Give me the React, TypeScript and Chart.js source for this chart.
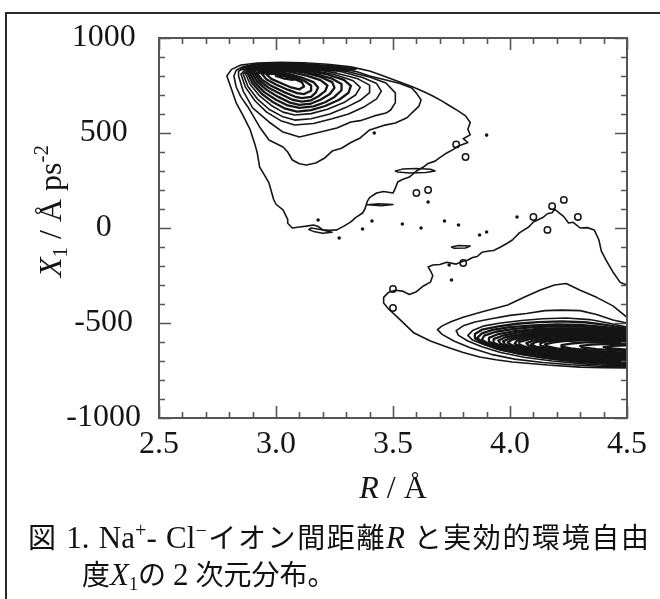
import React, { useEffect, useRef } from "react";
import { Chart, registerables } from "chart.js";

Chart.register(...registerables);

type P = [number, number];

// ---- axes ----
const xTickValues = [2.5, 3.0, 3.5, 4.0, 4.5];
const yTickValues = [-1000, -500, 0, 500, 1000];
const xMinorStep = 0.1;
const yMinorStep = 100;

// ---- upper cluster contours (R, X1) ----
const upper0: P[] = [
  [2.79, 800], [2.81, 835], [2.85, 858], [2.92, 868], [3.02, 872], [3.12, 870], [3.22, 862], [3.32, 848],
  [3.40, 826], [3.46, 800], [3.52, 772], [3.58, 745], [3.63, 718], [3.67, 695], [3.71, 668], [3.74, 645],
  [3.78, 615], [3.81, 590], [3.83, 555], [3.82, 520], [3.83, 490], [3.80, 470], [3.82, 450], [3.78, 432],
  [3.76, 415], [3.73, 395], [3.70, 370], [3.68, 352], [3.65, 340], [3.63, 321], [3.60, 300], [3.57, 268],
  [3.54, 255], [3.52, 242], [3.51, 210], [3.50, 184], [3.46, 192], [3.43, 184], [3.40, 160], [3.39, 140],
  [3.38, 100], [3.37, 79], [3.34, 55], [3.32, 32], [3.29, 10], [3.26, -10], [3.23, -12], [3.20, -10],
  [3.18, 8], [3.16, 16], [3.13, 10], [3.10, 5], [3.07, 0], [3.05, 25], [3.05, 45], [3.03, 95],
  [3.00, 125], [2.99, 150], [2.97, 237], [2.95, 280], [2.93, 321], [2.92, 395], [2.91, 440], [2.89, 516],
  [2.86, 590], [2.83, 658], [2.81, 730], [2.79, 800],
];
const upper1: P[] = [
  [2.82, 800], [2.83, 742], [2.85, 690], [2.88, 637], [2.93, 532], [2.97, 463], [3.03, 426], [3.05, 400],
  [3.07, 358], [3.10, 338], [3.13, 332], [3.17, 342], [3.21, 370], [3.24, 405], [3.28, 420], [3.32, 450],
  [3.36, 474], [3.40, 516], [3.46, 540], [3.51, 553], [3.56, 580], [3.58, 605], [3.61, 640], [3.62, 674],
  [3.60, 710], [3.58, 737], [3.53, 760], [3.47, 779], [3.40, 800], [3.35, 821], [3.25, 845], [3.15, 858],
  [3.02, 866], [2.92, 863], [2.86, 850], [2.83, 830], [2.82, 800],
];
const upper2: P[] = [
  [2.84, 800], [2.86, 720], [2.90, 632], [2.97, 558], [3.03, 505], [3.10, 479], [3.19, 505], [3.26, 526],
  [3.32, 558], [3.36, 565], [3.42, 590], [3.47, 605], [3.49, 621], [3.51, 660], [3.51, 711], [3.47, 763],
  [3.40, 795], [3.30, 825], [3.18, 848], [3.05, 860], [2.93, 860], [2.87, 848], [2.84, 825], [2.84, 800],
];
const upper3: P[] = [
  [2.85, 810], [2.87, 740], [2.91, 670], [2.96, 610], [3.02, 565], [3.08, 542], [3.16, 550], [3.24, 575],
  [3.31, 600], [3.38, 640], [3.43, 680], [3.45, 720], [3.43, 760], [3.37, 792], [3.28, 822], [3.16, 845],
  [3.04, 858], [2.94, 858], [2.88, 845], [2.85, 810],
];
const upper4: P[] = [
  [2.86, 810], [2.88, 745], [2.92, 680], [2.97, 625], [3.03, 585], [3.08, 568], [3.15, 575], [3.23, 600],
  [3.30, 635], [3.36, 672], [3.40, 712], [3.40, 752], [3.35, 785], [3.26, 815], [3.15, 838], [3.04, 853],
  [2.95, 855], [2.89, 843], [2.86, 810],
];
const upper5: P[] = [
  [2.87, 812], [2.89, 755], [2.93, 695], [2.98, 645], [3.03, 610], [3.08, 595], [3.15, 602], [3.22, 625],
  [3.29, 660], [3.34, 700], [3.36, 740], [3.33, 775], [3.25, 808], [3.15, 832], [3.04, 848], [2.95, 852],
  [2.90, 842], [2.87, 812],
];
const upper6: P[] = [
  [2.88, 812], [2.90, 760], [2.94, 705], [2.99, 660], [3.04, 628], [3.09, 613], [3.15, 620], [3.21, 642],
  [3.27, 675], [3.31, 712], [3.32, 748], [3.29, 780], [3.22, 808], [3.13, 830], [3.03, 845], [2.95, 850],
  [2.90, 840], [2.88, 812],
];
const upper7: P[] = [
  [2.89, 812], [2.91, 765], [2.95, 715], [3.00, 675], [3.05, 645], [3.10, 632], [3.16, 640], [3.21, 662],
  [3.25, 690], [3.28, 725], [3.28, 758], [3.24, 786], [3.17, 810], [3.09, 830], [3.01, 843], [2.95, 847],
  [2.91, 838], [2.89, 812],
];
const upper8: P[] = [
  [2.90, 812], [2.92, 770], [2.96, 727], [3.01, 690], [3.06, 660], [3.10, 648], [3.15, 655], [3.19, 675],
  [3.23, 705], [3.25, 738], [3.24, 768], [3.19, 795], [3.12, 818], [3.04, 835], [2.97, 843], [2.92, 835],
  [2.90, 812],
];
const upper9: P[] = [
  [2.91, 812], [2.93, 775], [2.97, 737], [3.02, 705], [3.07, 675], [3.11, 665], [3.15, 672], [3.18, 692],
  [3.21, 720], [3.22, 750], [3.19, 778], [3.13, 802], [3.06, 822], [2.99, 835], [2.94, 832], [2.91, 812],
];
const upper10: P[] = [
  [2.92, 812], [2.94, 780], [2.98, 748], [3.03, 718], [3.08, 692], [3.11, 684], [3.15, 690], [3.17, 712],
  [3.18, 740], [3.16, 768], [3.11, 792], [3.05, 812], [2.99, 826], [2.95, 826], [2.92, 812],
];
const upper11: P[] = [
  [2.94, 810], [2.96, 782], [3.00, 755], [3.05, 728], [3.09, 710], [3.12, 705], [3.15, 722], [3.15, 750],
  [3.12, 775], [3.07, 797], [3.01, 815], [2.97, 820], [2.94, 810],
];
const upper12: P[] = [
  [2.96, 808], [2.98, 785], [3.02, 763], [3.06, 742], [3.10, 730], [3.12, 745], [3.11, 768], [3.07, 788],
  [3.02, 805], [2.98, 812], [2.96, 808],
];
const upper13: P[] = [
  [3.00, 800], [3.03, 788], [3.07, 780], [3.09, 786], [3.06, 796], [3.02, 803], [3.00, 800],
];
// tightly packed contours along the top edge of the upper cluster
const upperTop1: P[] = [
  [2.85, 835], [2.90, 857], [3.00, 864], [3.12, 862], [3.24, 852], [3.34, 836], [3.30, 828], [3.20, 838],
  [3.08, 846], [2.97, 846], [2.90, 840], [2.85, 835],
];
const upperTop2: P[] = [
  [2.88, 828], [2.94, 850], [3.05, 856], [3.17, 851], [3.29, 838], [3.25, 829], [3.13, 837], [3.01, 838],
  [2.93, 834], [2.88, 828],
];
const upperTop3: P[] = [
  [2.93, 818], [2.99, 840], [3.10, 846], [3.21, 840], [3.17, 830], [3.06, 829], [2.98, 824], [2.93, 818],
];

// ---- lower cluster contours (R, X1), open at the right axis ----
const lower0: P[] = [
  [4.50, -300], [4.47, -285], [4.44, -232], [4.41, -168], [4.39, -120], [4.38, -63], [4.36, -10], [4.33, 2],
  [4.30, 0], [4.27, 30], [4.25, 26], [4.23, 60], [4.21, 80], [4.19, 100], [4.18, 80], [4.16, 75],
  [4.14, 55], [4.10, 32], [4.08, 5], [4.06, -10], [4.04, -26], [4.01, -63], [3.99, -79], [3.96, -100],
  [3.93, -118], [3.91, -121], [3.88, -128], [3.86, -150], [3.84, -155], [3.82, -168], [3.80, -175], [3.77, -190],
  [3.73, -180], [3.70, -192], [3.67, -195], [3.65, -205], [3.66, -225], [3.67, -250], [3.66, -285], [3.63, -305],
  [3.60, -335], [3.57, -350], [3.54, -332], [3.51, -328], [3.48, -340], [3.46, -365], [3.46, -395], [3.48, -425],
  [3.52, -470], [3.59, -553], [3.66, -595], [3.73, -626], [3.80, -655], [3.87, -679], [3.94, -693], [4.01, -705],
  [4.16, -721], [4.30, -732], [4.40, -735], [4.50, -737],
];
const lower1: P[] = [
  [4.50, -470], [4.44, -410], [4.37, -365], [4.30, -328], [4.24, -292], [4.19, -300], [4.13, -326], [4.06, -365],
  [3.99, -405], [3.93, -425], [3.87, -445], [3.80, -470], [3.75, -492], [3.71, -515], [3.69, -535], [3.71, -560],
  [3.76, -595], [3.83, -630], [3.92, -665], [4.02, -690], [4.14, -708], [4.26, -720], [4.38, -728], [4.50, -732],
];
const lower2: P[] = [
  [4.50, -500], [4.44, -484], [4.37, -455], [4.30, -435], [4.22, -432], [4.15, -435], [4.07, -450], [4.00, -460],
  [3.92, -478], [3.85, -495], [3.80, -515], [3.77, -540], [3.78, -565], [3.82, -595], [3.88, -625], [3.96, -655],
  [4.06, -680], [4.18, -700], [4.30, -714], [4.40, -722], [4.50, -727],
];
const lower3: P[] = [
  [4.50, -522], [4.42, -500], [4.34, -482], [4.24, -474], [4.14, -478], [4.05, -487], [3.96, -500], [3.89, -515],
  [3.84, -540], [3.82, -565], [3.84, -590], [3.89, -615], [3.96, -643], [4.06, -668], [4.18, -690], [4.30, -706],
  [4.40, -716], [4.50, -722],
];
const lower3b: P[] = [
  [4.50, -530], [4.41, -510], [4.32, -496], [4.22, -491], [4.12, -495], [4.03, -504], [3.95, -518], [3.88, -535],
  [3.85, -558], [3.85, -580], [3.88, -605], [3.94, -632], [4.03, -658], [4.14, -681], [4.26, -699], [4.38, -711],
  [4.50, -719],
];
const lower4: P[] = [
  [4.50, -537], [4.40, -520], [4.30, -510], [4.20, -508], [4.10, -512], [4.00, -522], [3.93, -535], [3.88, -555],
  [3.86, -578], [3.88, -600], [3.93, -625], [4.01, -650], [4.11, -672], [4.23, -692], [4.35, -705], [4.50, -715],
];
const lower4b: P[] = [
  [4.50, -543], [4.40, -528], [4.30, -519], [4.20, -518], [4.10, -522], [4.01, -532], [3.94, -546], [3.89, -566],
  [3.88, -588], [3.91, -610], [3.97, -633], [4.06, -656], [4.17, -678], [4.29, -695], [4.50, -712],
];
const lower5: P[] = [
  [4.50, -548], [4.40, -535], [4.30, -528], [4.20, -528], [4.10, -533], [4.02, -543], [3.95, -558], [3.91, -578],
  [3.91, -598], [3.95, -620], [4.02, -642], [4.12, -663], [4.24, -683], [4.36, -698], [4.50, -708],
];
const lower5b: P[] = [
  [4.50, -553], [4.40, -541], [4.30, -535], [4.20, -535], [4.11, -541], [4.03, -551], [3.97, -566], [3.93, -585],
  [3.93, -604], [3.97, -624], [4.04, -644], [4.14, -664], [4.25, -681], [4.37, -695], [4.50, -704],
];
const lower6: P[] = [
  [4.50, -558], [4.40, -548], [4.30, -542], [4.20, -543], [4.11, -550], [4.04, -560], [3.98, -575], [3.95, -592],
  [3.96, -610], [4.00, -628], [4.07, -646], [4.16, -664], [4.27, -680], [4.38, -692], [4.50, -700],
];
const lower6b: P[] = [
  [4.50, -563], [4.40, -554], [4.30, -549], [4.20, -550], [4.12, -556], [4.05, -566], [4.00, -581], [3.97, -597],
  [3.98, -614], [4.03, -631], [4.10, -648], [4.19, -665], [4.30, -679], [4.40, -689], [4.50, -696],
];
const lower7: P[] = [
  [4.50, -568], [4.40, -560], [4.30, -556], [4.20, -557], [4.12, -563], [4.06, -573], [4.01, -587], [3.99, -603],
  [4.01, -618], [4.06, -634], [4.13, -650], [4.22, -665], [4.32, -678], [4.42, -687], [4.50, -692],
];
const lower7b: P[] = [
  [4.50, -572], [4.40, -565], [4.30, -562], [4.20, -563], [4.13, -569], [4.07, -579], [4.03, -593], [4.02, -608],
  [4.04, -622], [4.09, -637], [4.17, -652], [4.26, -666], [4.36, -678], [4.50, -688],
];
const lower8: P[] = [
  [4.50, -577], [4.40, -571], [4.30, -568], [4.20, -570], [4.13, -576], [4.08, -586], [4.04, -600], [4.04, -613],
  [4.07, -627], [4.13, -641], [4.21, -655], [4.31, -668], [4.41, -678], [4.50, -684],
];
const lower8b: P[] = [
  [4.50, -581], [4.40, -576], [4.30, -574], [4.20, -576], [4.14, -583], [4.10, -593], [4.07, -606], [4.08, -619],
  [4.12, -632], [4.18, -645], [4.27, -658], [4.37, -669], [4.50, -680],
];
const lower9: P[] = [
  [4.50, -586], [4.40, -581], [4.30, -580], [4.21, -583], [4.15, -590], [4.11, -600], [4.09, -612], [4.11, -624],
  [4.16, -636], [4.23, -648], [4.32, -660], [4.42, -670], [4.50, -676],
];
const lower9b: P[] = [
  [4.50, -590], [4.40, -586], [4.30, -585], [4.22, -589], [4.16, -596], [4.13, -606], [4.13, -618], [4.16, -629],
  [4.22, -640], [4.30, -652], [4.40, -663], [4.50, -672],
];
const lower10: P[] = [
  [4.50, -594], [4.40, -591], [4.31, -591], [4.23, -595], [4.18, -603], [4.15, -613], [4.16, -623], [4.20, -633],
  [4.27, -643], [4.35, -653], [4.44, -662], [4.50, -667],
];
const lower11: P[] = [
  [4.50, -602], [4.41, -600], [4.32, -602], [4.26, -608], [4.22, -616], [4.22, -625], [4.26, -634], [4.33, -643],
  [4.41, -651], [4.50, -658],
];
const lower12: P[] = [
  [4.50, -610], [4.42, -610], [4.35, -614], [4.30, -621], [4.31, -629], [4.37, -637], [4.44, -643], [4.50, -648],
];
const lower13: P[] = [
  [4.50, -618], [4.44, -620], [4.40, -626], [4.42, -633], [4.50, -640],
];

// ---- small islands between the clusters ----
const islandA: P[] = [[3.51, 300], [3.54, 310], [3.60, 313], [3.66, 309], [3.68, 300], [3.64, 292], [3.57, 290], [3.52, 295], [3.51, 300]];
const islandB: P[] = [[3.39, 122], [3.44, 127], [3.50, 124], [3.45, 117], [3.39, 122]];
const islandC: P[] = [[3.75, -100], [3.78, -92], [3.83, -95], [3.81, -105], [3.76, -106], [3.75, -100]];
const islandD: P[] = [[3.15, 0], [3.19, -8], [3.24, -22], [3.20, -28], [3.16, -18], [3.14, -8], [3.15, 0]];

const smallLoops: P[] = [
  [3.81, 374], [3.77, 440], [3.60, 184], [3.65, 200], [4.10, 58], [4.16, -10], [4.18, 115], [4.23, 148],
  [4.29, 58], [3.50, -321], [3.50, -421], [3.80, -184],
];
const specks: P[] = [
  [3.42, 500], [3.90, 489], [3.41, 37], [3.37, -5], [3.54, 21], [3.62, 0], [3.72, 37], [3.78, 16],
  [3.87, -37], [3.90, -21], [4.03, 58], [3.65, 137], [3.27, -53], [3.18, 42], [3.75, -274], [3.74, -195],
];

const outerContours = [upper0, upper1, upper2, upper3, upper4, upper5, lower0, lower1, lower2, lower3];
const innerContours = [
  upper6, upper7, upper8, upper9, upper10, upper11, upper12, upper13, upperTop1, upperTop2, upperTop3,
  lower3b, lower4, lower4b, lower5, lower5b, lower6, lower6b, lower7, lower7b, lower8, lower8b, lower9, lower9b,
  lower10, lower11, lower12, lower13,
];
const islandContours = [islandA, islandB, islandC, islandD];

const SERIF = "'Liberation Serif', 'Times New Roman', serif";
const INK = "#151515";

type Piece = { t: string; size: number; italic?: boolean; dy?: number };

function drawRich(ctx: CanvasRenderingContext2D, pieces: Piece[], cx: number, baseY: number) {
  const widths = pieces.map((p) => {
    ctx.font = `${p.italic ? "italic " : ""}${p.size}px ${SERIF}`;
    return ctx.measureText(p.t).width;
  });
  const total = widths.reduce((a, b) => a + b, 0);
  let x = cx - total / 2;
  ctx.textAlign = "left";
  ctx.textBaseline = "alphabetic";
  pieces.forEach((p, i) => {
    ctx.font = `${p.italic ? "italic " : ""}${p.size}px ${SERIF}`;
    ctx.fillText(p.t, x, baseY + (p.dy || 0));
    x += widths[i];
  });
}

const framePlugin = {
  id: "frameAndTicks",
  afterDatasetsDraw(chart: any) {
    const { ctx, chartArea: a, scales } = chart;
    const xs = scales.x;
    const ys = scales.y;
    ctx.save();
    ctx.strokeStyle = "#555";
    ctx.lineWidth = 2;
    ctx.strokeRect(a.left, a.top, a.right - a.left, a.bottom - a.top);
    ctx.lineWidth = 1.6;
    const majLen = 12;
    const minLen = 6;
    const x0 = xTickValues[0];
    const x1 = xTickValues[xTickValues.length - 1];
    const nx = Math.round((x1 - x0) / xMinorStep);
    for (let i = 0; i <= nx; i++) {
      const v = x0 + i * xMinorStep;
      const isMajor = xTickValues.some((t) => Math.abs(t - v) < 1e-6);
      const len = isMajor ? majLen : minLen;
      const px = Math.round(xs.getPixelForValue(v)) + 0.5;
      ctx.beginPath();
      ctx.moveTo(px, a.bottom);
      ctx.lineTo(px, a.bottom - len);
      ctx.moveTo(px, a.top);
      ctx.lineTo(px, a.top + len);
      ctx.stroke();
    }
    const y0 = yTickValues[0];
    const y1 = yTickValues[yTickValues.length - 1];
    const ny = Math.round((y1 - y0) / yMinorStep);
    for (let i = 0; i <= ny; i++) {
      const v = y0 + i * yMinorStep;
      const isMajor = yTickValues.some((t) => Math.abs(t - v) < 1e-6);
      const len = isMajor ? majLen : minLen;
      const py = Math.round(ys.getPixelForValue(v)) + 0.5;
      ctx.beginPath();
      ctx.moveTo(a.left, py);
      ctx.lineTo(a.left + len, py);
      ctx.moveTo(a.right, py);
      ctx.lineTo(a.right - len, py);
      ctx.stroke();
    }
    ctx.restore();
  },
  afterDraw(chart: any) {
    const { ctx, chartArea: a } = chart;
    ctx.save();
    ctx.fillStyle = INK;
    drawRich(
      ctx,
      [
        { t: "R", size: 32, italic: true },
        { t: " / Å", size: 32 },
      ],
      (a.left + a.right) / 2,
      a.bottom + 80
    );
    ctx.translate(a.left - 109, (a.top + a.bottom) / 2 - 17);
    ctx.rotate(-Math.PI / 2);
    drawRich(
      ctx,
      [
        { t: "X", size: 32, italic: true },
        { t: "1", size: 21, dy: 6 },
        { t: " / Å ps", size: 32 },
        { t: "-2", size: 21, dy: -13 },
      ],
      0,
      11
    );
    ctx.restore();
  },
};

export default function App() {
  const ref = useRef<HTMLCanvasElement>(null);

  useEffect(() => {
    const canvas = ref.current;
    if (!canvas) return;
    const toXY = (pts: P[]) => pts.map(([x, y]) => ({ x, y }));
    const lineDs = (width: number) => (pts: P[]) => ({
      data: toXY(pts),
      showLine: true,
      pointRadius: 0,
      borderColor: INK,
      borderWidth: width,
      fill: false,
      tension: 0,
      borderJoinStyle: "round",
      borderCapStyle: "round",
    });
    const datasets: any[] = [
      ...outerContours.map(lineDs(1.6)),
      ...innerContours.map(lineDs(2.3)),
      ...islandContours.map(lineDs(1.5)),
      {
        data: toXY(smallLoops),
        showLine: false,
        pointStyle: "circle",
        pointRadius: 3.2,
        borderColor: INK,
        pointBorderColor: INK,
        pointBorderWidth: 1.5,
        backgroundColor: "rgba(0,0,0,0)",
        pointBackgroundColor: "rgba(0,0,0,0)",
      },
      {
        data: toXY(specks),
        showLine: false,
        pointStyle: "circle",
        pointRadius: 1.8,
        borderColor: INK,
        pointBorderWidth: 0,
        backgroundColor: INK,
        pointBackgroundColor: INK,
      },
    ];
    const tickFont = { family: SERIF, size: 32 };
    const chart = new Chart(canvas, {
      type: "scatter",
      data: { datasets },
      options: {
        responsive: false,
        animation: false,
        devicePixelRatio: 1,
        events: [],
        layout: { padding: { left: 0, top: 38, right: 33, bottom: 0 } },
        plugins: {
          legend: { display: false },
          tooltip: { enabled: false },
          title: { display: false },
        },
        scales: {
          x: {
            type: "linear",
            position: "bottom",
            min: xTickValues[0],
            max: xTickValues[xTickValues.length - 1],
            grid: { display: false, drawTicks: false },
            border: { display: false },
            ticks: {
              font: tickFont,
              color: INK,
              padding: 7,
              maxRotation: 0,
              autoSkip: false,
              callback: (v: any) => Number(v).toFixed(1),
            },
            afterBuildTicks: (s: any) => {
              s.ticks = xTickValues.map((v) => ({ value: v }));
            },
            afterFit: (s: any) => {
              s.height = 181;
            },
          },
          y: {
            type: "linear",
            position: "left",
            min: yTickValues[0],
            max: yTickValues[yTickValues.length - 1],
            grid: { display: false, drawTicks: false },
            border: { display: false },
            ticks: {
              font: tickFont,
              color: INK,
              padding: 18,
              crossAlign: "center",
              autoSkip: false,
              callback: (v: any) => String(Math.round(Number(v))),
            },
            afterBuildTicks: (s: any) => {
              s.ticks = yTickValues.map((v) => ({ value: v }));
            },
            afterFit: (s: any) => {
              s.width = 159;
            },
          },
        },
      } as any,
      plugins: [framePlugin as any],
    });
    return () => chart.destroy();
  }, []);

  const capFont = "'Liberation Serif', 'Noto Sans CJK JP', serif";
  const latin: React.CSSProperties = { fontSize: 31 };
  const supStyle: React.CSSProperties = { fontSize: "0.65em", position: "relative", top: "-0.55em", lineHeight: 0, verticalAlign: "baseline" };
  const subStyle: React.CSSProperties = { fontSize: "0.65em", position: "relative", top: "0.3em", lineHeight: 0, verticalAlign: "baseline" };

  return (
    <div style={{ position: "absolute", left: 0, top: 0, width: 660, height: 599, overflow: "hidden", background: "#fff" }}>
      <div
        style={{
          position: "absolute",
          left: 5,
          top: 12,
          width: 655,
          height: 587,
          borderLeft: "2px solid #2a2a2a",
          borderTop: "2px solid #2a2a2a",
          boxSizing: "border-box",
        }}
      />
      <canvas ref={ref} width={660} height={599} style={{ position: "absolute", left: 0, top: 0, width: 660, height: 599 }} />
      <div
        style={{
          position: "absolute",
          left: 28,
          top: 522,
          width: 621,
          fontFamily: capFont,
          fontSize: 28,
          lineHeight: "32px",
          color: "#111",
          textAlign: "justify",
          textAlignLast: "justify" as any,
        }}
      >
        図 <span style={latin}>1. Na<span style={supStyle}>+</span>- Cl<span style={supStyle}>−</span></span>イオン間距離<i style={latin}>R</i> と実効的環境自由
      </div>
      <div
        style={{
          position: "absolute",
          left: 82,
          top: 559,
          fontFamily: capFont,
          fontSize: 28,
          lineHeight: "32px",
          color: "#111",
          whiteSpace: "nowrap",
        }}
      >
        度<i style={latin}>X</i><span style={subStyle}>1</span>の <span style={latin}>2</span> 次元分布。
      </div>
    </div>
  );
}
